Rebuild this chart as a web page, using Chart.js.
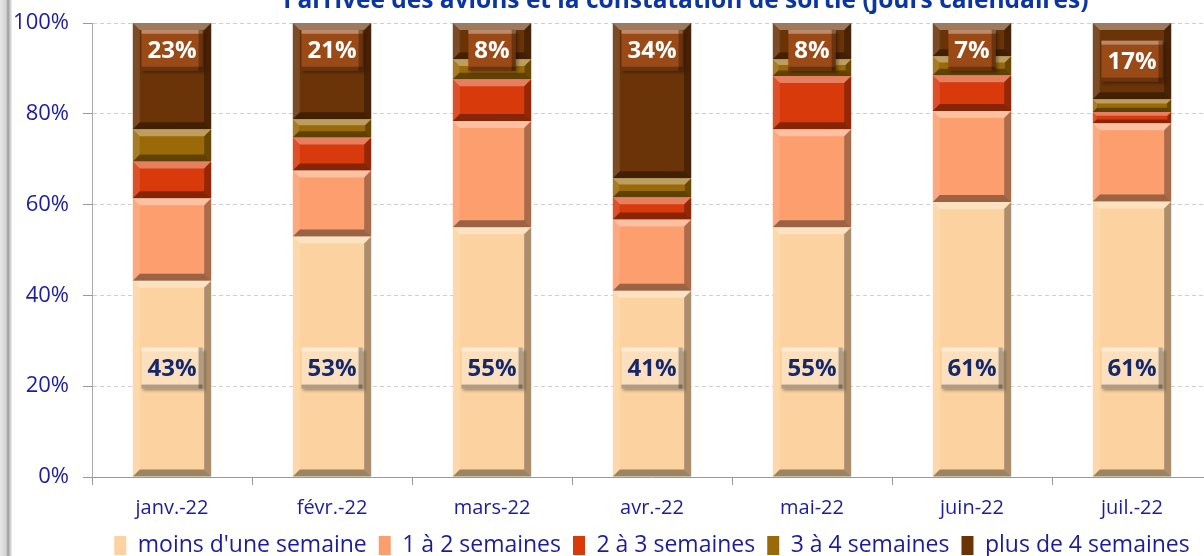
<!DOCTYPE html>
<html>
<head>
<meta charset="utf-8">
<script src="https://cdn.jsdelivr.net/npm/chart.js@4.4.0/dist/chart.umd.min.js"></script>
<style>
  html, body { margin: 0; padding: 0; background: #fff; overflow: hidden; }
  body { width: 1204px; height: 556px; position: relative; }
  #wrap { position: absolute; left: 0; top: -30px; width: 1230px; height: 597px; }
  #edge { position: absolute; left: 0; top: 0; width: 12px; height: 556px;
          background: linear-gradient(to right, #e6e6e6 0px, #d4d4d4 6px, #9a9a9a 8px, #c8c8c8 10px, #f2f2f2 12px); }
</style>
</head>
<body>
<div id="wrap"><canvas id="chart" width="1230" height="597"></canvas></div>
<div id="edge"></div>
<script>
const months = ['janv.-22', 'févr.-22', 'mars-22', 'avr.-22', 'mai-22', 'juin-22', 'juil.-22']
const seriesNames = ["moins d'une semaine", '1 à 2 semaines', '2 à 3 semaines', '3 à 4 semaines', 'plus de 4 semaines']
const lessThanOneWeek = [43.2, 53.0, 55.0, 41.0, 55.0, 60.6, 60.7]
const oneToTwoWeeks = [18.2, 14.5, 23.4, 15.7, 21.6, 20.0, 17.2]
const twoToThreeWeeks = [8.1, 7.3, 9.2, 4.9, 11.7, 7.9, 2.5]
const threeToFourWeeks = [7.1, 4.0, 4.4, 4.2, 3.7, 4.2, 2.8]
const moreThanFourWeeks = [23.4, 21.2, 8.0, 34.2, 8.0, 7.3, 16.8]
const yTicks = [0, 20, 40, 60, 80, 100]

const colors = ['#FCD3A0', '#FC9E6E', '#D93A0B', '#9B6A08', '#6A3408']
const navy = '#1C1C9C'
const font = "'Open Sans', 'DejaVu Sans', sans-serif"

// relief on each bar, drawn from the bar elements
const bevelPlugin = {
    id: 'bevel',
    afterDatasetsDraw(chart) {
        const {ctx} = chart
        chart.data.datasets.forEach((ds, i) => {
            chart.getDatasetMeta(i).data.forEach(bar => {
                const {x, y, base, width} = bar.getProps(['x', 'y', 'base', 'width'], true)
                const l = x - width / 2, r = x + width / 2
                const t = Math.min(y, base), b = Math.max(y, base)
                const h = b - t
                const s = Math.min(7, h / 3)
                if (h < 1) return
                const quad = (pts, color) => {
                    ctx.beginPath()
                    ctx.moveTo(pts[0], pts[1])
                    for (let k = 2; k < pts.length; k += 2) ctx.lineTo(pts[k], pts[k + 1])
                    ctx.closePath()
                    ctx.fillStyle = color
                    ctx.fill()
                }
                ctx.save()
                quad([l, t, r, t, r - s, t + s, l + s, t + s], 'rgba(255,255,255,0.35)')
                quad([l, t, l + s, t + s, l + s, b - s, l, b], 'rgba(255,255,255,0.12)')
                quad([r, t, r, b, r - s, b - s, r - s, t + s], 'rgba(0,0,0,0.32)')
                quad([l, b, l + s, b - s, r - s, b - s, r, b], 'rgba(0,0,0,0.38)')
                ctx.restore()
            })
        })
    }
}

const drawLabelBox = (ctx, cx, cy, text, fill, textColor) => {
    ctx.save()
    ctx.font = `bold 24px ${font}`
    const w = ctx.measureText(text).width + 12
    const h = 41
    const l = cx - w / 2, t = cy - h / 2
    ctx.shadowColor = 'rgba(0,0,0,0.35)'
    ctx.shadowOffsetX = 2
    ctx.shadowOffsetY = 2
    ctx.shadowBlur = 3
    ctx.fillStyle = fill
    ctx.fillRect(l, t, w, h)
    ctx.shadowColor = 'transparent'
    const s = 4
    ctx.fillStyle = 'rgba(255,255,255,0.35)'
    ctx.fillRect(l, t, w, s)
    ctx.fillStyle = 'rgba(0,0,0,0.3)'
    ctx.fillRect(l, t + h - s, w, s)
    ctx.fillRect(l + w - s, t, s, h)
    ctx.fillStyle = textColor
    ctx.textAlign = 'center'
    ctx.textBaseline = 'middle'
    ctx.fillText(text, cx, cy + 1)
    ctx.restore()
}

// value labels on first and last series
const labelPlugin = {
    id: 'valueLabels',
    afterDatasetsDraw(chart) {
        const {ctx} = chart
        const yScale = chart.scales.y
        chart.getDatasetMeta(0).data.forEach((bar, j) => {
            const v = chart.data.datasets[0].data[j]
            drawLabelBox(ctx, bar.x, yScale.getPixelForValue(24), Math.round(v) + '%', '#FCE0BE', '#14286A')
        })
        const last = chart.data.datasets.length - 1
        chart.getDatasetMeta(last).data.forEach((bar, j) => {
            const v = chart.data.datasets[last].data[j]
            const center = 100 - v / 2
            const pos = v >= 20 ? 94 : Math.min(center, 94)
            drawLabelBox(ctx, bar.x, yScale.getPixelForValue(pos), Math.round(v) + '%', '#9A4A16', '#ffffff')
        })
    }
}

const titlePlugin = {
    id: 'cutTitle',
    afterDraw(chart) {
        const {ctx} = chart
        ctx.save()
        ctx.font = `bold 24.5px ${font}`
        ctx.fillStyle = '#0B35A0'
        ctx.textAlign = 'center'
        ctx.textBaseline = 'middle'
        ctx.fillText("l'arrivée des avions et la constatation de sortie (jours calendaires)", 686, 31)
        ctx.restore()
    }
}

const allSeries = [lessThanOneWeek, oneToTwoWeeks, twoToThreeWeeks, threeToFourWeeks, moreThanFourWeeks]

new Chart(document.getElementById('chart'), {
    type: 'bar',
    data: {
        labels: months,
        datasets: allSeries.map((values, i) => ({
            label: seriesNames[i],
            data: values,
            backgroundColor: colors[i],
            borderWidth: 0,
            barPercentage: 0.49,
            categoryPercentage: 1
        }))
    },
    options: {
        responsive: false,
        animation: false,
        devicePixelRatio: 1,
        layout: { padding: { top: 53, right: 18, left: 0, bottom: 0 } },
        plugins: {
            tooltip: { enabled: false },
            title: { display: false },
            legend: {
                position: 'bottom',
                fullSize: false,
                labels: {
                    color: navy,
                    font: { family: font, size: 23 },
                    boxWidth: 12,
                    boxHeight: 19,
                    padding: 12
                }
            }
        },
        scales: {
            x: {
                stacked: true,
                grid: { display: true, drawOnChartArea: false, tickLength: 8, color: '#999', offset: true },
                border: { color: '#999' },
                ticks: { color: navy, font: { family: font, size: 20 }, padding: 11 },
                afterFit: scale => { scale.height = 45 }
            },
            y: {
                stacked: true,
                min: 0,
                max: 100,
                afterBuildTicks: scale => { scale.ticks = yTicks.map(v => ({ value: v })) },
                grid: { color: '#cfcfcf', tickLength: 9, tickColor: '#999', tickBorderDash: [] },
                border: { color: '#aaa', dash: [4, 3] },
                ticks: { color: navy, font: { family: font, size: 22 }, padding: 14, callback: v => v + '%' },
                afterFit: scale => { scale.width = 92 }
            }
        }
    },
    plugins: [bevelPlugin, labelPlugin, titlePlugin]
})
</script>
</body>
</html>
